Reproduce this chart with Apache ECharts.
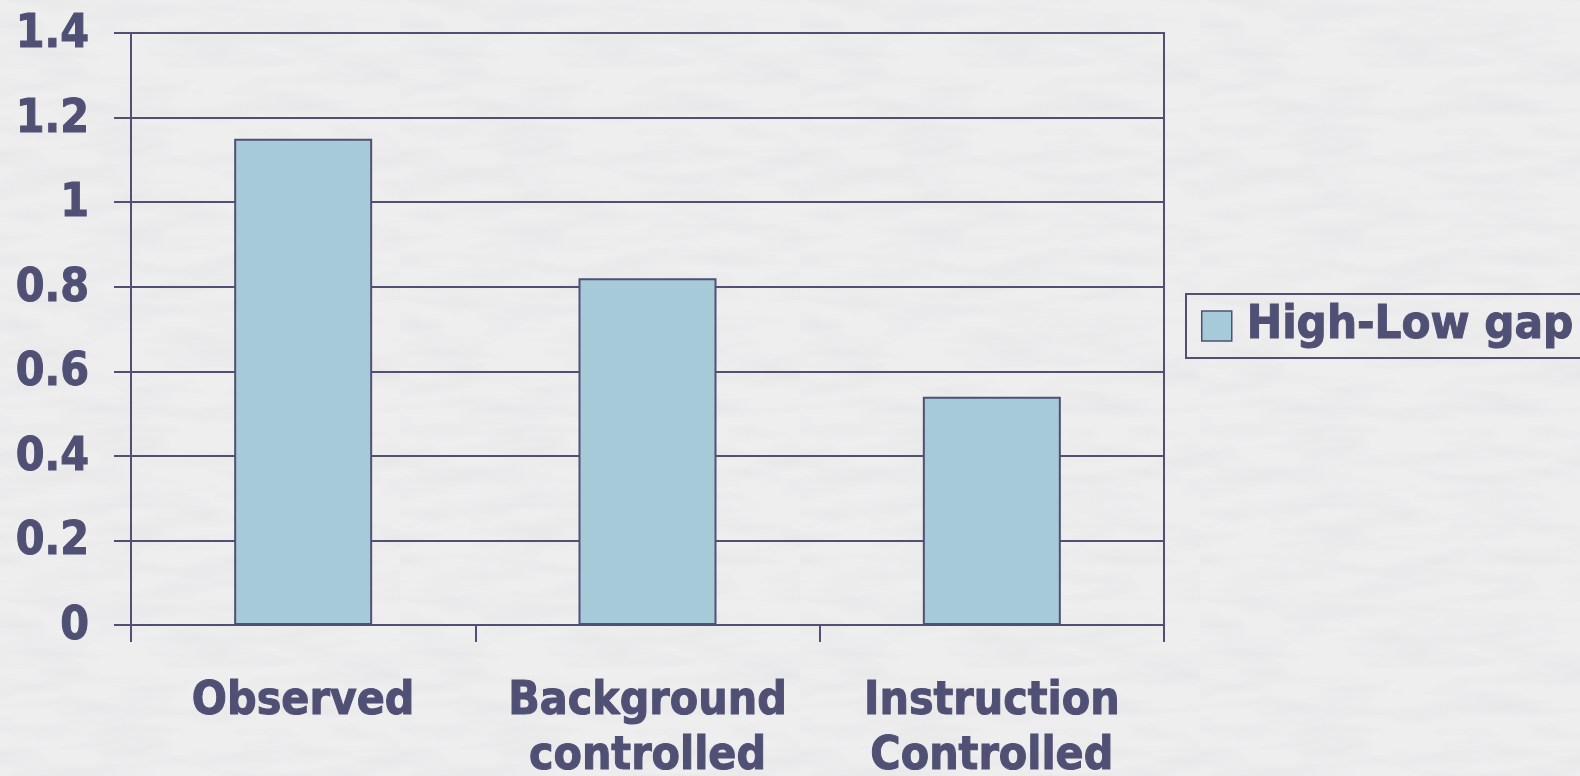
<!DOCTYPE html>
<html>
<head>
<meta charset="utf-8">
<title>High-Low gap</title>
<script src="https://cdn.jsdelivr.net/npm/echarts@6/dist/echarts.min.js"></script>
<style>
  html, body { margin: 0; padding: 0; background: #eeeeef; }
  #wrap { position: relative; width: 1580px; height: 776px; overflow: hidden; }
  /* soft paper grain behind the chart */
  #paper {
    position: absolute; inset: 0;
    background-color: #efeff0;
    background-image: url("data:image/svg+xml;utf8,<svg xmlns='http://www.w3.org/2000/svg' width='400' height='300'><filter id='n'><feTurbulence type='fractalNoise' baseFrequency='0.012 0.06' numOctaves='4' seed='7'/><feColorMatrix values='0 0 0 0 0.55  0 0 0 0 0.55  0 0 0 0 0.58  0 0 0 0.9 -0.35'/></filter><rect width='100%' height='100%' filter='url(%23n)'/></svg>");
    opacity: 0.35;
  }
  #chart { position: absolute; left: 0; top: 0; width: 1580px; height: 776px; }
</style>
</head>
<body>
<div id="wrap">
  <div id="paper"></div>
  <div id="chart"></div>
</div>
<script>
// Chart data
const categories = ['Observed', 'Background\ncontrolled', 'Instruction\nControlled'];
const seriesName = 'High-Low gap';
const gapValues = [1.15, 0.82, 0.54];

const INK = '#505075';
const BAR = '#a7cad8';

// Prefer the condensed face (closer to a compact bold sans); fall back to regular DejaVu Sans.
function hasFont(name) {
  const ctx = document.createElement('canvas').getContext('2d');
  ctx.font = 'bold 40px monospace';
  const base = ctx.measureText('Observed High-Low gap').width;
  ctx.font = 'bold 40px "' + name + '", monospace';
  return Math.abs(ctx.measureText('Observed High-Low gap').width - base) > 0.5;
}
const condensed = hasFont('DejaVu Sans Condensed');
const FONT = condensed ? '"DejaVu Sans Condensed", "DejaVu Sans", sans-serif'
                       : '"DejaVu Sans", Verdana, sans-serif';
const SIZE_AXIS = condensed ? 46 : 41;
const SIZE_VALUE = condensed ? 46 : 42;
const SIZE_LEGEND = condensed ? 47 : 42.5;

// heavy lettering: bold face plus a thin outline in the same ink
const heavy = { fontFamily: FONT, fontWeight: 'bold', color: INK, textBorderColor: INK, textBorderWidth: 1 };

const chart = echarts.init(document.getElementById('chart'), null, { renderer: 'canvas' });

chart.setOption({
  backgroundColor: 'transparent',
  animation: false,
  textStyle: { fontFamily: FONT, fontWeight: 'bold', color: INK },
  grid: {
    left: 131, right: 416, top: 33, bottom: 151,
    containLabel: false,
    outerBoundsMode: 'none',
    show: true, borderColor: INK, borderWidth: 2, backgroundColor: 'transparent'
  },
  legend: {
    orient: 'vertical',
    left: 1186, top: 294,
    padding: [8, 30, 8, 15],
    itemWidth: 30, itemHeight: 30, itemGap: 0,
    icon: 'rect',
    borderColor: INK, borderWidth: 2,
    itemStyle: { color: BAR, borderColor: INK, borderWidth: 1.5 },
    textStyle: Object.assign({}, heavy, { fontSize: SIZE_LEGEND, lineHeight: 48, padding: [0, 0, 0, 10] }),
    data: [seriesName]
  },
  xAxis: {
    type: 'category',
    data: categories,
    axisLine: { lineStyle: { color: INK, width: 2 } },
    axisTick: { show: true, length: 17, lineStyle: { color: INK, width: 2 } },
    axisLabel: Object.assign({}, heavy, { fontSize: SIZE_AXIS, lineHeight: 55, margin: 50, interval: 0 })
  },
  yAxis: {
    type: 'value',
    min: 0, max: 1.4, interval: 0.2,
    axisLine: { show: true, lineStyle: { color: INK, width: 2 } },
    axisTick: { show: true, length: 17, lineStyle: { color: INK, width: 2 } },
    splitLine: { show: true, lineStyle: { color: INK, width: 2 } },
    axisLabel: Object.assign({}, heavy, { fontSize: SIZE_VALUE, margin: 42, verticalAlign: 'top', lineHeight: 4 })
  },
  series: [{
    name: seriesName,
    type: 'bar',
    data: gapValues,
    barWidth: 138,
    itemStyle: { color: BAR, borderColor: INK, borderWidth: 2 }
  }]
});
</script>
</body>
</html>
